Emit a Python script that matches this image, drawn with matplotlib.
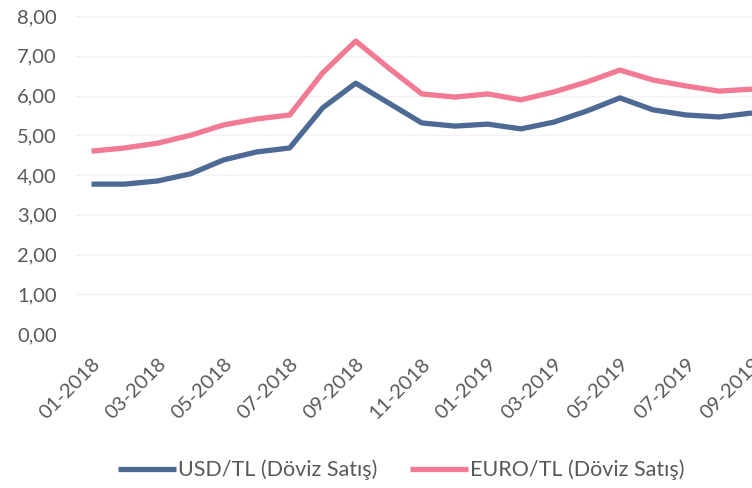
import matplotlib.pyplot as plt
import numpy as np

# Monthly averages, 01-2018 .. 09-2019
months = ['01-2018', '02-2018', '03-2018', '04-2018', '05-2018', '06-2018',
          '07-2018', '08-2018', '09-2018', '10-2018', '11-2018', '12-2018',
          '01-2019', '02-2019', '03-2019', '04-2019', '05-2019', '06-2019',
          '07-2019', '08-2019', '09-2019']
usd = [3.77, 3.77, 3.85, 4.03, 4.38, 4.58, 4.68, 5.69, 6.31, 5.81, 5.31, 5.23,
       5.28, 5.16, 5.33, 5.61, 5.94, 5.64, 5.51, 5.46, 5.56]
eur = [4.60, 4.68, 4.80, 5.00, 5.26, 5.41, 5.51, 6.57, 7.37, 6.69, 6.04, 5.96,
       6.04, 5.89, 6.09, 6.34, 6.64, 6.39, 6.24, 6.11, 6.16]
yticks = [0, 1, 2, 3, 4, 5, 6, 7, 8]

plt.rcParams['font.family'] = ['Lato', 'DejaVu Sans']

fig = plt.figure(figsize=(7.52, 4.88), dpi=100)
ax = fig.add_axes([75/752, 1-334/488, 1-75/752, (334-16)/488])

x = np.arange(len(months))
ax.plot(x, usd, color='#4D6A95', lw=3.8, label='USD/TL (Döviz Satış)', solid_capstyle='butt')
ax.plot(x, eur, color='#F27A93', lw=3.8, label='EURO/TL (Döviz Satış)', solid_capstyle='butt')

ax.set_xlim(-0.5, 20)
ax.set_ylim(0, 8)
ax.set_yticks(yticks)
ax.set_yticklabels([('%.2f' % v).replace('.', ',') for v in yticks])
ax.set_xticks(x[::2])
ax.set_xticklabels(months[::2], rotation=45, ha='right', va='top', rotation_mode='anchor')
ax.tick_params(length=0, labelsize=14.5, colors='#595959')
ax.tick_params(axis='y', pad=13)
ax.tick_params(axis='x', pad=15)
for s in ax.spines.values():
    s.set_visible(False)
ax.grid(axis='y', color='#f3f3f3', lw=1)
ax.set_axisbelow(True)

fig.legend(loc='center', bbox_to_anchor=(401/752, 1-470/488), ncol=2, frameon=False,
           fontsize=15.5, labelcolor='#595959', handlelength=2.7, handletextpad=0.1,
           columnspacing=1.5)

fig.savefig('out.png', dpi=100)
